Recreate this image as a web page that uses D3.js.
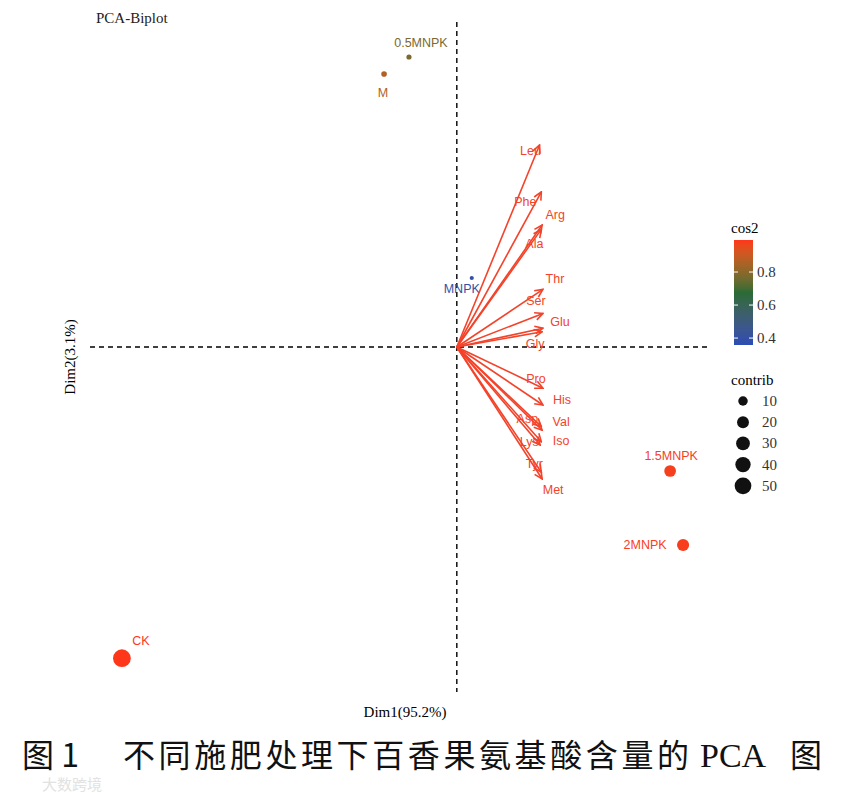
<!DOCTYPE html>
<html>
<head>
<meta charset="utf-8">
<script src="https://cdn.jsdelivr.net/npm/d3@7"></script>
<style>
  body { margin: 0; background: #fff; }
  svg text { font-family: "Liberation Serif", "DejaVu Serif", serif; }
</style>
</head>
<body>
<div id="wrapper"></div>
<script>
// individuals
var indNames   = ["CK", "1.5MNPK", "2MNPK", "M", "0.5MNPK", "MNPK"]
var indDim1    = [-8.4, 5.35, 5.675, -1.825, -1.2, 0.375]
var indDim2    = [-7.78, -3.1, -4.95, 6.825, 7.25, 1.725]
var indCos2    = [0.992, 0.978, 0.982, 0.865, 0.775, 0.40]
var indContrib = [58, 19, 21, 1.2, 0.7, 0.1]

// variables (amino acids)
var varNames = ["Leu", "Phe", "Arg", "Ala", "Thr", "Ser", "Glu", "Gly",
                "Pro", "His", "Asp", "Val", "Lys", "Iso", "Tyr", "Met"]
var varDim1  = [2.075, 2.12, 2.14, 2.12, 2.16, 2.16, 2.16, 2.14,
                2.16, 2.16, 2.12, 2.14, 2.12, 2.09, 2.12, 2.14]
var varDim2  = [5.05, 3.88, 3.05, 2.94, 1.44, 0.84, 0.47, 0.38,
                -1.03, -1.45, -1.99, -2.08, -2.37, -2.45, -3.13, -3.3]

var cos2Ticks    = [0.4, 0.6, 0.8]
var contribTicks = [10, 20, 30, 40, 50]

var dim1Label = "Dim1(95.2%)"
var dim2Label = "Dim2(3.1%)"
var caption = ["图 1", "不同施肥处理下百香果氨基酸含量的", "PCA", "图"]

// label nudges (px), like repel output
var indNudge = [[19, -17], [1, -15], [-38, 0], [-1, 19], [12, -14], [-10, 11]]
var varNudge = [[-9, 6], [-16, 10], [13, -10], [-7, 15], [12, -10], [-7, -12], [17, -6], [-7, 12],
                [-7, -9], [19, -5], [-14, -8], [19, -8], [-12, 0], [21, -4], [-7, -8], [11, 11]]

var W = 851, H = 793
var panel = { left: 90, right: 710, top: 22, bottom: 692 }
var arrowColor = "#F3432A"
var labelFont = "'Liberation Sans', Arial, sans-serif"

const svg = d3.select("#wrapper")
    .append("svg")
    .attr("width", W)
    .attr("height", H)

var xScale = d3.scaleLinear()
    .domain([-9.2, 6.35])
    .range([panel.left, panel.right])

var yScale = d3.scaleLinear()
    .domain([-8.625, 8.125])
    .range([panel.bottom, panel.top])

var cos2Domain = [0.358, 0.676, 0.994]
var colorScale = d3.scaleLinear()
    .domain(cos2Domain)
    .range(["#2A4CB6", "#2B6B35", "#FF361B"])
    .interpolate(d3.interpolateLab)

var sizeScale = d3.scaleSqrt()
    .domain([0, 60])
    .range([1.8, 9])

var inds = indNames.map((n, i) => ({
    name: n, x: indDim1[i], y: indDim2[i], cos2: indCos2[i], contrib: indContrib[i], nudge: indNudge[i]
}))
var vars = varNames.map((n, i) => ({
    name: n, x: varDim1[i], y: varDim2[i], nudge: varNudge[i]
}))

// reference lines
svg.append("line")
    .attr("x1", panel.left).attr("x2", panel.right)
    .attr("y1", yScale(0)).attr("y2", yScale(0))
    .attr("stroke", "black").attr("stroke-width", 1.4)
    .attr("stroke-dasharray", "5,4")

svg.append("line")
    .attr("x1", xScale(0)).attr("x2", xScale(0))
    .attr("y1", panel.top).attr("y2", panel.bottom)
    .attr("stroke", "black").attr("stroke-width", 1.4)
    .attr("stroke-dasharray", "5,4")

// individuals
svg.append("g").selectAll("circle")
    .data(inds)
    .join("circle")
    .attr("cx", d => xScale(d.x))
    .attr("cy", d => yScale(d.y))
    .attr("r", d => sizeScale(d.contrib))
    .attr("fill", d => colorScale(d.cos2))

svg.append("g").selectAll("text")
    .data(inds)
    .join("text")
    .attr("x", d => xScale(d.x) + d.nudge[0])
    .attr("y", d => yScale(d.y) + d.nudge[1])
    .attr("text-anchor", "middle")
    .attr("dominant-baseline", "central")
    .style("font-family", labelFont)
    .style("font-size", "12.5px")
    .attr("fill", d => colorScale(d.cos2))
    .text(d => d.name)

// variable labels, then arrows on top
svg.append("g").selectAll("text")
    .data(vars)
    .join("text")
    .attr("x", d => xScale(d.x) + d.nudge[0])
    .attr("y", d => yScale(d.y) + d.nudge[1])
    .attr("text-anchor", "middle")
    .attr("dominant-baseline", "central")
    .style("font-family", labelFont)
    .style("font-size", "12.5px")
    .attr("fill", arrowColor)
    .text(d => d.name)

svg.append("defs").append("marker")
    .attr("id", "head")
    .attr("viewBox", "0 0 10 10")
    .attr("refX", 9).attr("refY", 5)
    .attr("markerUnits", "userSpaceOnUse")
    .attr("markerWidth", 10).attr("markerHeight", 10)
    .attr("orient", "auto")
    .append("path")
    .attr("d", "M1,1.2 L9,5 L1,8.8")
    .attr("fill", "none")
    .attr("stroke", arrowColor)
    .attr("stroke-width", 1.6)

svg.append("g").selectAll("line")
    .data(vars)
    .join("line")
    .attr("x1", xScale(0)).attr("y1", yScale(0))
    .attr("x2", d => xScale(d.x))
    .attr("y2", d => yScale(d.y))
    .attr("stroke", arrowColor)
    .attr("stroke-width", 1.6)
    .attr("marker-end", "url(#head)")

// titles
svg.append("text")
    .attr("x", 96).attr("y", 23)
    .style("font-size", "15px")
    .attr("fill", "#222")
    .text("PCA-Biplot")

svg.append("text")
    .attr("x", (panel.left + panel.right) / 2 + 5).attr("y", 717)
    .attr("text-anchor", "middle")
    .style("font-size", "15px")
    .text(dim1Label)

svg.append("text")
    .attr("transform", `translate(75,${(panel.top + panel.bottom) / 2}) rotate(-90)`)
    .attr("text-anchor", "middle")
    .style("font-size", "15px")
    .text(dim2Label)

// cos2 legend
var bar = { x: 734, y: 240, w: 19, h: 105 }
var legY = d3.scaleLinear()
    .domain([cos2Domain[0], cos2Domain[2]])
    .range([bar.y + bar.h, bar.y])

var grad = svg.select("defs").append("linearGradient")
    .attr("id", "cosgrad")
    .attr("x1", 0).attr("y1", 1).attr("x2", 0).attr("y2", 0)
grad.selectAll("stop")
    .data(d3.range(0, 1.0001, 0.05))
    .join("stop")
    .attr("offset", t => t)
    .attr("stop-color", t => colorScale(cos2Domain[0] + t * (cos2Domain[2] - cos2Domain[0])))

svg.append("text")
    .attr("x", bar.x - 3).attr("y", 233)
    .style("font-size", "15px")
    .text("cos2")

svg.append("rect")
    .attr("x", bar.x).attr("y", bar.y)
    .attr("width", bar.w).attr("height", bar.h)
    .attr("fill", "url(#cosgrad)")

var tk = svg.append("g").selectAll("g")
    .data(cos2Ticks)
    .join("g")
tk.append("line")
    .attr("x1", bar.x).attr("x2", bar.x + 4)
    .attr("y1", d => legY(d)).attr("y2", d => legY(d))
    .attr("stroke", "white").attr("stroke-width", 1)
tk.append("line")
    .attr("x1", bar.x + bar.w - 4).attr("x2", bar.x + bar.w)
    .attr("y1", d => legY(d)).attr("y2", d => legY(d))
    .attr("stroke", "white").attr("stroke-width", 1)
tk.append("text")
    .attr("x", bar.x + bar.w + 4)
    .attr("y", d => legY(d))
    .attr("dominant-baseline", "central")
    .style("font-size", "15px")
    .attr("fill", "#333")
    .text(d => d3.format(".1f")(d))

// contrib legend
svg.append("text")
    .attr("x", bar.x - 3).attr("y", 385)
    .style("font-size", "15px")
    .text("contrib")

var sz = svg.append("g").selectAll("g")
    .data(contribTicks)
    .join("g")
    .attr("transform", (d, i) => `translate(743,${401 + i * 21.2})`)
sz.append("circle")
    .attr("r", d => sizeScale(d))
    .attr("fill", "#111")
sz.append("text")
    .attr("x", 19)
    .attr("dominant-baseline", "central")
    .style("font-size", "15px")
    .attr("fill", "#333")
    .text(d => d)

// caption
var cap = svg.append("text")
    .attr("y", 767)
    .style("font-family", "'Noto Sans CJK SC', sans-serif")
    .style("font-size", "32px")
    .attr("fill", "#111")
cap.append("tspan").attr("x", 22).text(caption[0])
cap.append("tspan").attr("x", 123).attr("textLength", 566).attr("lengthAdjust", "spacing").text(caption[1])
cap.append("tspan").attr("x", 700).style("font-family", "'Liberation Serif', serif").style("font-size", "34px").text(caption[2])
cap.append("tspan").attr("x", 790).text(caption[3])

// watermark
svg.append("text")
    .attr("x", 42).attr("y", 790)
    .style("font-family", "'Noto Sans CJK SC', sans-serif")
    .style("font-size", "15px")
    .attr("fill", "#e2e2e2")
    .text("大数跨境")
</script>
</body>
</html>
